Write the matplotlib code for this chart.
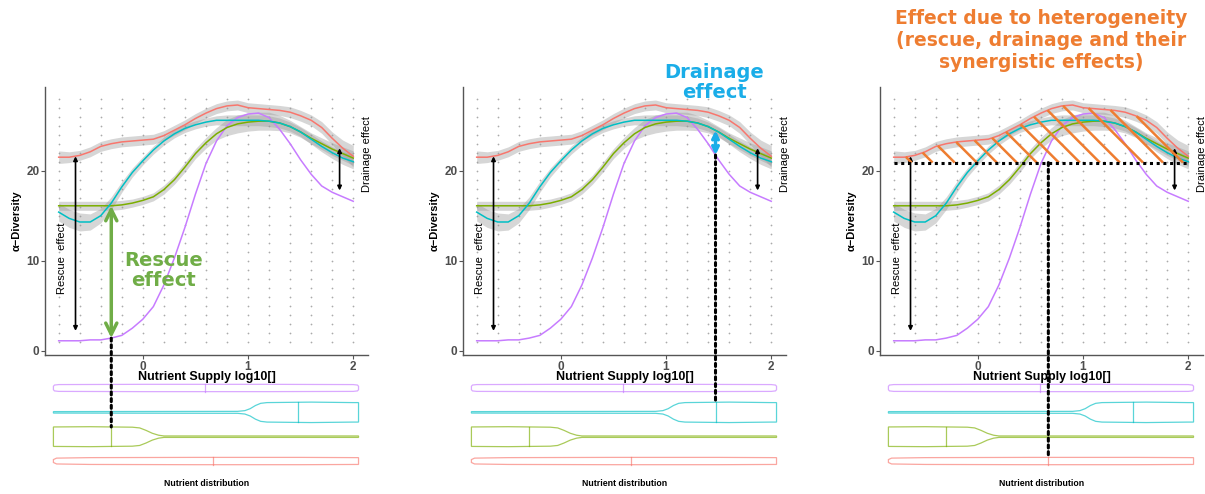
import numpy as np
import matplotlib
matplotlib.use("Agg")
import matplotlib.pyplot as plt
from matplotlib.patches import ConnectionPatch

plt.rcParams['font.family'] = ['Liberation Sans', 'DejaVu Sans']

# smoothed alpha-diversity along the nutrient supply gradient (log10)
supply = [-0.8, -0.7, -0.6, -0.5, -0.4, -0.3, -0.2, -0.1, 0.0, 0.1, 0.2, 0.3, 0.4, 0.5,
          0.6, 0.7, 0.8, 0.9, 1.0, 1.1, 1.2, 1.3, 1.4, 1.5, 1.6, 1.7, 1.8, 1.9, 2.0]
red = [21.5, 21.5, 21.7, 22.1, 22.7, 23.0, 23.2, 23.3, 23.4, 23.5, 23.9, 24.5, 25.1, 25.8,
       26.4, 26.9, 27.2, 27.3, 27.0, 26.9, 26.8, 26.7, 26.5, 26.1, 25.6, 24.8, 23.6, 22.5, 21.6]
cyan = [15.4, 14.7, 14.3, 14.3, 15.0, 16.4, 18.2, 19.8, 21.1, 22.3, 23.3, 24.1, 24.7, 25.1,
        25.4, 25.6, 25.6, 25.6, 25.6, 25.6, 25.5, 25.3, 24.9, 24.3, 23.5, 22.7, 22.0, 21.4, 21.0]
green = [16.1, 16.1, 16.1, 16.1, 16.1, 16.1, 16.2, 16.4, 16.7, 17.1, 17.9, 19.0, 20.4, 21.9,
         23.1, 24.1, 24.8, 25.2, 25.4, 25.5, 25.5, 25.3, 24.9, 24.3, 23.6, 23.0, 22.4, 21.9, 21.4]
purple = [1.1, 1.1, 1.1, 1.2, 1.2, 1.4, 1.7, 2.5, 3.5, 4.9, 7.3, 10.3, 13.7, 17.4,
          20.8, 23.3, 25.0, 25.9, 26.3, 26.4, 25.9, 24.6, 23.0, 21.2, 19.6, 18.3, 17.6, 17.1, 16.6]

# half widths of the confidence bands
red_se = [0.7, 0.6, 0.55, 0.55, 0.55, 0.55, 0.55, 0.55, 0.55, 0.55, 0.55, 0.55, 0.55, 0.55,
          0.55, 0.55, 0.55, 0.55, 0.55, 0.55, 0.55, 0.55, 0.6, 0.6, 0.6, 0.65, 0.7, 0.9, 1.2]
cyan_se = [1.0, 1.0, 1.0, 0.9, 0.8, 0.7, 0.6, 0.5, 0.45, 0.45, 0.45, 0.45, 0.45, 0.45,
           0.45, 0.5, 0.6, 0.6, 0.6, 0.6, 0.6, 0.55, 0.5, 0.5, 0.55, 0.6, 0.65, 0.7, 0.8]
green_se = [0.5, 0.5, 0.5, 0.5, 0.5, 0.5, 0.5, 0.45, 0.45, 0.45, 0.5, 0.5, 0.55, 0.55,
            0.6, 0.7, 0.9, 1.0, 1.0, 1.0, 1.0, 0.85, 0.7, 0.6, 0.6, 0.65, 0.7, 0.75, 0.8]

# background raw points
dot_x = [-0.8, -0.6, -0.4, -0.2, 0.0, 0.2, 0.4, 0.6, 0.8, 1.0, 1.2, 1.4, 1.6, 1.8, 2.0]
dot_y = list(range(1, 29))

# nutrient distributions (violins): positions and half widths
vio_purple_x = [-0.85, -0.84, -0.8, 0.0, 0.6, 1.2, 2.0, 2.04, 2.05]
vio_purple_w = [0.07, 0.12, 0.14, 0.15, 0.15, 0.15, 0.14, 0.12, 0.07]
vio_cyan_x = [-0.85, 0.9, 0.97, 1.02, 1.07, 1.12, 1.18, 1.6, 2.0, 2.05]
vio_cyan_w = [0.03, 0.04, 0.07, 0.15, 0.28, 0.37, 0.40, 0.42, 0.40, 0.40]
vio_green_x = [-0.85, -0.5, -0.1, -0.03, 0.03, 0.09, 0.15, 0.2, 0.5, 2.05]
vio_green_w = [0.40, 0.41, 0.39, 0.36, 0.26, 0.14, 0.06, 0.03, 0.03, 0.03]
vio_red_x = [-0.85, -0.82, -0.5, 0.5, 1.5, 2.03, 2.05]
vio_red_w = [0.06, 0.12, 0.14, 0.15, 0.15, 0.14, 0.14]
medians = {'purple': 0.59, 'cyan': 1.47, 'green': -0.30, 'red': 0.67}

# annotation values
rescue_x = -0.30
drain_x = 1.47
hetero_level = 20.9
hatch_x = [-0.63, -0.43, -0.22, -0.01, 0.18, 0.37, 0.56, 0.77, 0.97, 1.16, 1.35, 1.57, 1.76, 1.95]

C_RED, C_GREEN, C_CYAN, C_PURPLE = '#F8766D', '#7CAE00', '#00BFC4', '#C77CFF'
ORANGE = '#EE7D31'
TXT_GREEN = '#70AD47'
TXT_CYAN = '#1AADE8'
DOTTED = (0, (1, 1.2))

fig = plt.figure(figsize=(12.05, 4.94), dpi=100)
W, H = 1205, 494
lefts = [45, 463, 880]


def main_axes(left):
    ax = fig.add_axes([left / W, (H - 355) / H, 323 / W, 268 / H])
    ax.set_xlim(-0.93, 2.14)
    ax.set_ylim(-0.48, 29.3)
    for s in ['top', 'right']:
        ax.spines[s].set_visible(False)
    for s in ['left', 'bottom']:
        ax.spines[s].set_color('#555555')
        ax.spines[s].set_linewidth(1.0)
    ax.set_xticks([0, 1, 2])
    ax.set_yticks([0, 10, 20])
    ax.tick_params(length=3, width=0.8, color='#555555', labelsize=8.5, labelcolor='#4D4D4D', pad=1)
    for lab in ax.get_xticklabels() + ax.get_yticklabels():
        lab.set_fontweight('bold')
    ax.set_xlabel('Nutrient Supply log10[]', fontsize=9, fontweight='bold', labelpad=-1)
    ax.set_ylabel('α−Diversity', fontsize=8, fontweight='bold', labelpad=3)

    gx, gy = np.meshgrid(dot_x, dot_y)
    ax.scatter(gx.ravel(), gy.ravel(), s=1.6, color='#AAAAAA', lw=0, zorder=1)

    for vals, se in [(red, red_se), (cyan, cyan_se), (green, green_se)]:
        v, e = np.array(vals), np.array(se)
        ax.fill_between(supply, v - e, v + e, color='#999999', alpha=0.4, lw=0, zorder=2)
    for vals, c in [(purple, C_PURPLE), (green, C_GREEN), (cyan, C_CYAN), (red, C_RED)]:
        ax.plot(supply, vals, color=c, lw=1.1, zorder=3)

    # black reference arrows
    ax.annotate('', xy=(-0.64, 2.2), xytext=(-0.64, red[1] + 0.1),
                arrowprops=dict(arrowstyle='<|-|>', color='black', lw=1.2, mutation_scale=6,
                                shrinkA=0, shrinkB=0), zorder=5)
    ax.text(-0.77, 10.3, 'Rescue  effect', rotation=90, fontsize=8, ha='center', va='center')
    ax.annotate('', xy=(1.87, 17.8), xytext=(1.87, 22.5),
                arrowprops=dict(arrowstyle='<|-|>', color='black', lw=1.2, mutation_scale=6,
                                shrinkA=0, shrinkB=0), zorder=5)
    ax.text(2.13, 21.9, 'Drainage effect', rotation=90, fontsize=8, ha='center', va='center')
    return ax


def violin_axes(left):
    vax = fig.add_axes([left / W, (H - 472) / H, 323 / W, 94 / H])
    vax.set_xlim(-0.93, 2.14)
    vax.set_ylim(0.55, 4.41)
    vax.axis('off')
    rows = [(4, vio_purple_x, vio_purple_w, medians['purple'], C_PURPLE),
            (3, vio_cyan_x, vio_cyan_w, medians['cyan'], C_CYAN),
            (2, vio_green_x, vio_green_w, medians['green'], C_GREEN),
            (1, vio_red_x, vio_red_w, medians['red'], C_RED)]
    for row, xs, ws, med, c in rows:
        xs, ws = np.array(xs), np.array(ws)
        vax.fill(np.r_[xs, xs[::-1]], np.r_[row + ws, (row - ws)[::-1]],
                 fill=False, edgecolor=c, lw=0.9, alpha=0.65)
        h = np.interp(med, xs, ws)
        vax.plot([med, med], [row - h, row + h], color=c, lw=0.9, alpha=0.65)
    vax.text(0.5, -11 / 94, 'Nutrient distribution', transform=vax.transAxes,
             ha='center', va='center', fontsize=6.3, fontweight='bold')
    return vax


def violin_top(name, row, xs, ws):
    return row + np.interp(medians[name], xs, ws)


def dotted_link(ax, vax, x, y0, x1, y1):
    con = ConnectionPatch(xyA=(x, y0), coordsA=ax.transData, xyB=(x1, y1), coordsB=vax.transData,
                          color='black', lw=2.2, linestyle=DOTTED, zorder=10)
    fig.add_artist(con)


axes = [main_axes(l) for l in lefts]
vaxes = [violin_axes(l) for l in lefts]

# panel 1: rescue effect
ax, vax = axes[0], vaxes[0]
g_top = np.interp(rescue_x, supply, green)
p_bot = np.interp(rescue_x, supply, purple)
ax.annotate('', xy=(rescue_x, p_bot), xytext=(rescue_x, g_top),
            arrowprops=dict(arrowstyle='<->', color=TXT_GREEN, lw=2.5, mutation_scale=20,
                            shrinkA=0, shrinkB=0), zorder=6)
ax.text(0.20, 8.9, 'Rescue\neffect', color=TXT_GREEN, fontsize=14, fontweight='bold',
        family='DejaVu Sans', ha='center', va='center', linespacing=1.05)
dotted_link(ax, vax, rescue_x, p_bot, rescue_x, violin_top('green', 2, vio_green_x, vio_green_w))

# panel 2: drainage effect
ax, vax = axes[1], vaxes[1]
c_top = np.interp(drain_x, supply, cyan)
p_mid = np.interp(drain_x, supply, purple)
ax.annotate('', xy=(drain_x, p_mid), xytext=(drain_x, c_top),
            arrowprops=dict(arrowstyle='<->', color=TXT_CYAN, lw=2.5, mutation_scale=10,
                            shrinkA=0, shrinkB=0), zorder=6)
ax.text(1.46, 29.8, 'Drainage\neffect', color=TXT_CYAN, fontsize=14, fontweight='bold',
        family='DejaVu Sans', ha='center', va='center', linespacing=1.05)
dotted_link(ax, vax, drain_x, p_mid, drain_x, violin_top('cyan', 3, vio_cyan_x, vio_cyan_w))

# panel 3: heterogeneity effect
ax, vax = axes[2], vaxes[2]
p0 = ax.transData.transform((0, 0))
p1 = ax.transData.transform((1, 1))
slope = (p1[0] - p0[0]) / (p1[1] - p0[1])
for x0 in hatch_x:
    if np.interp(x0, supply, red) <= hetero_level:
        continue
    xs = np.linspace(x0, max(x0 - 1.0, supply[0]), 2000)
    ly = hetero_level + (x0 - xs) * slope
    ry = np.interp(xs, supply, red)
    i = np.argmax(ly >= ry)
    ax.plot([x0, xs[i]], [hetero_level, ly[i]], color=ORANGE, lw=1.8, zorder=7, solid_capstyle='butt')
ax.plot([supply[0], supply[-1]], [hetero_level, hetero_level], color='black', lw=2.2,
        linestyle=DOTTED, zorder=8)
dotted_link(ax, vax, medians['red'], hetero_level, medians['red'],
            violin_top('red', 1, vio_red_x, vio_red_w))
ax.text(0.5, 1.175, 'Effect due to heterogeneity\n(rescue, drainage and their\nsynergistic effects)',
        transform=ax.transAxes, color=ORANGE, fontsize=13.5, fontweight='bold', family='DejaVu Sans',
        ha='center', va='center', linespacing=1.2)

fig.savefig('out.png', dpi=100)
